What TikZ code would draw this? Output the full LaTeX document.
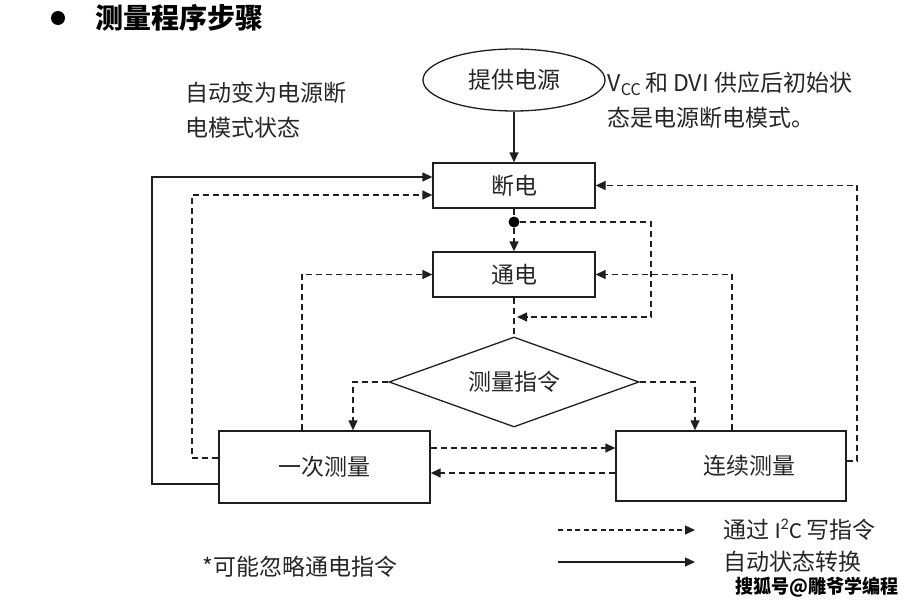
\documentclass[tikz,border=0pt]{standalone}
\usepackage{fontspec}
\setmainfont{Carlito}
\newfontfamily\cjk{Noto Sans CJK SC}
\usetikzlibrary{shapes.geometric,arrows.meta}
\begin{document}
\begin{tikzpicture}[x=1pt,y=-1pt,
  line width=1.3pt, draw=black!88,
  cn/.style={font=\cjk\fontsize{23}{35}\selectfont, text=black!85},
  stepbox/.style={draw, rectangle, inner sep=0pt, cn},
  auto/.style={-{Triangle[length=10pt,width=9pt]}},
  dl/.style={dash pattern=on 6pt off 4pt},
  da/.style={dl,-{Triangle[length=10pt,width=9pt]}},
]
\useasboundingbox (0,0) rectangle (920,607);

% title
\node[circle, fill=black, inner sep=0pt, minimum size=14pt] (bul) at (58,18) {};
\node[anchor=west, inner sep=0pt, font=\cjk\bfseries\fontsize{28}{30}\selectfont] (title) at (95,18) {测量程序步骤};

% notes
\node[cn, anchor=west, align=left, inner sep=0pt] (note1) at (185,110) {自动变为电源断\\电模式状态};
\node[cn, anchor=west, align=left, inner sep=0pt] (note2) at (607,100)
  {V\textsubscript{CC}\,和 DVI 供应后初始状\\态是电源断电模式。};

% nodes
\node[draw, ellipse, cn, minimum width=182pt, minimum height=62pt, inner sep=0pt] (src) at (514,80) {提供电源};
\node[stepbox, minimum width=162pt, minimum height=45pt] (off) at (514,185.5) {断电};
\node[stepbox, minimum width=162pt, minimum height=45pt] (on) at (514,274.5) {通电};
\node[draw, diamond, aspect=2.78, cn, minimum width=250pt, minimum height=90pt, inner sep=0pt] (cmd) at (514,382) {测量指令};
\node[stepbox, minimum width=211pt, minimum height=72pt] (once) at (324.5,467) {一次测量};
\node[stepbox, minimum width=230pt, minimum height=70pt] (cont) at (731,466) {\hspace*{36pt}连续测量};
\node[circle, fill=black, inner sep=0pt, minimum size=11pt] (dot) at (514,222) {};

% helper coordinates
\coordinate (s1) at (152,484);
\coordinate (s2) at (152,177);
\coordinate (d1) at (192,458);
\coordinate (d2) at (192,195);
\coordinate (c1) at (651,222);
\coordinate (c2) at (651,317);
\coordinate (l1) at (353,382);
\coordinate (r1) at (695,382);
\coordinate (h1) at (0,448);
\coordinate (h2) at (0,473);
\coordinate (u1) at (302,274.5);
\coordinate (u2) at (732,274.5);
\coordinate (e1) at (857,461);
\coordinate (e2) at (857,185.5);

% connectors
\draw[auto] (src) -- (off);
\draw[auto] (once.west |- s1) -- (s1) -- (s2) -- (off.west |- s2);
\draw[da] (once.west |- d1) -- (d1) -- (d2) -- (off.west |- d2);
\draw[dl] (off.south) -- (dot);
\draw[da] (dot) -- (on.north);
\draw[da] (dot) -- (c1) -- (c2) -- ([xshift=3pt]dot |- c2);
\draw[dl] (on.south) -- (cmd.north);
\draw[da] (cmd.west) -- (l1) -- (l1 |- once.north);
\draw[da] (cmd.east) -- (r1) -- (r1 |- cont.north);
\draw[da] (once.east |- h1) -- (cont.west |- h1);
\draw[da] (cont.west |- h2) -- (once.east |- h2);
\draw[da] (u1 |- once.north) -- (u1) -- (on.west);
\draw[da] (u2 |- cont.north) -- (u2) -- (on.east);
\draw[da] (cont.east |- e1) -- (e1) -- (e2) -- (off.east);

% legend
\coordinate (lg1) at (558,530);
\coordinate (lg2) at (695,530);
\coordinate (lg3) at (558,562);
\coordinate (lg4) at (695,562);
\draw[da, dash pattern=on 5pt off 3.5pt, line width=1.2pt] (lg1) -- (lg2);
\draw[auto, line width=1.2pt] (lg3) -- (lg4);
\node[anchor=west, inner sep=0pt, text=black!85, font=\fontsize{23}{25}\selectfont] (leg1) at (723,530) {{\cjk 通过} I\textsuperscript{2}C {\cjk 写指令}};
\node[cn, anchor=west, inner sep=0pt] (leg2) at (723,562) {自动状态转换};
\node[cn, anchor=west, inner sep=0pt] (note3) at (202,567) {*可能忽略通电指令};

% watermark
\node[anchor=west, inner sep=0pt, font=\cjk\bfseries\fontsize{19}{20}\selectfont] (wm) at (735,587) {\scalebox{0.95}[1]{搜狐号@雕爷学编程}};
\end{tikzpicture}
\end{document}
